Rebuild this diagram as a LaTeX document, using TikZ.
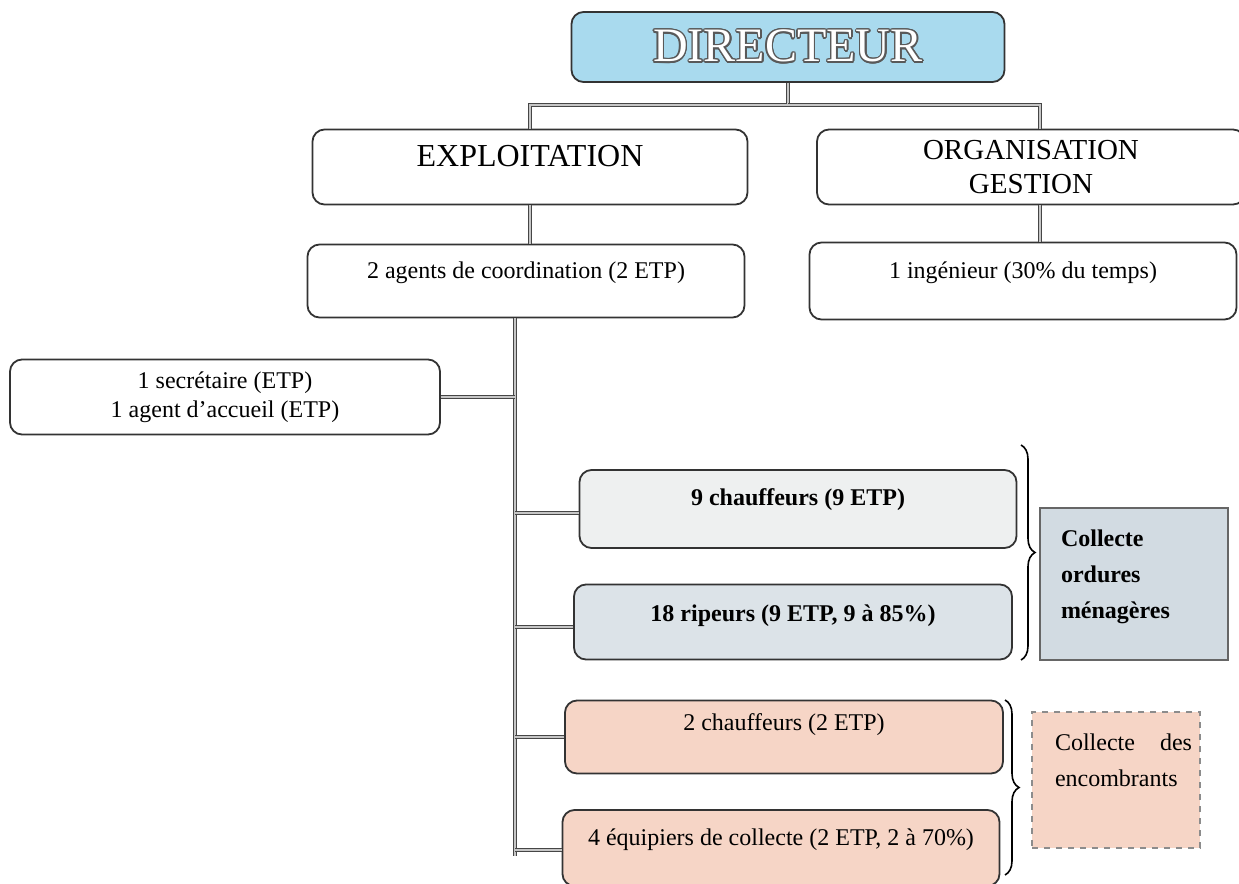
\documentclass[tikz,border=0pt]{standalone}
\usepackage{fontspec}
\setmainfont{Liberation Serif}
\usepackage{contour}
\contourlength{0.7pt}
\usetikzlibrary{positioning,decorations.pathreplacing}
\definecolor{dirblue}{HTML}{A9DAEE}
\definecolor{omgrey}{HTML}{EEF0F0}
\definecolor{ripblue}{HTML}{DCE3E8}
\definecolor{omblue}{HTML}{D2DBE2}
\definecolor{encpink}{HTML}{F6D5C6}

\begin{document}
\begin{tikzpicture}[x=0.5pt,y=-0.5pt]
% STYLES
\tikzset{%
    unit/.style={%
        rectangle,rounded corners=6pt,draw=black!80,line width=0.9pt,
        align=center,inner sep=0pt,font=\fontsize{12}{14.5}\selectfont
    },
    group/.style={%
        rectangle,draw=black!60,line width=0.6pt,align=left,inner sep=0pt,
        font=\bfseries\fontsize{12}{18}\selectfont
    },
    link/.style={%
        draw=gray!55!black,line width=0.5pt,double=gray!45,double distance=1pt
    },
    grpbrace/.style={%
        decorate,decoration={brace,amplitude=7pt},line width=0.8pt
    }
}
\useasboundingbox (0,0) rectangle (1239,884);
% Draw units
\node [unit, fill=dirblue, minimum width=216.5pt, minimum height=35pt,
       font=\fontsize{24}{26}\selectfont] (dir) at (788,47)
      {\color{white}\contour{black!65}{DIRECTEUR}};
\node [unit, minimum width=217.5pt, minimum height=37.5pt, text depth=11pt,
       font=\fontsize{16}{18}\selectfont] (expl) at (530,167) {EXPLOITATION};
\node [unit, minimum width=214pt, minimum height=37.5pt,
       font=\fontsize{14.5}{17}\selectfont] (org) at (1031,167) {ORGANISATION\\GESTION};
\node [unit, minimum width=218.5pt, minimum height=36.5pt, text depth=11pt]
      (agents) at (526,281) {2 agents de coordination (2 ETP)};
\node [unit, minimum width=213.5pt, minimum height=38.5pt, text depth=11pt]
      (ing) at (1023,281) {1 ingénieur (30\% du temps)};
\node [unit, minimum width=215pt, minimum height=37.5pt] (sec) at (225,397)
      {1 secrétaire (ETP)\\1 agent d'accueil (ETP)};
\node [unit, fill=omgrey, minimum width=218.5pt, minimum height=39pt, text depth=12pt,
       font=\bfseries\fontsize{12}{14.5}\selectfont] (ch9) at (798,509)
      {9 chauffeurs (9 ETP)};
\node [unit, fill=ripblue, minimum width=219pt, minimum height=37.5pt, text depth=9pt,
       font=\bfseries\fontsize{12}{14.5}\selectfont] (rip) at (793,622)
      {18 ripeurs (9 ETP, 9 à 85\%)};
\node [unit, fill=encpink, minimum width=219pt, minimum height=36.5pt, text depth=15pt]
      (ch2) at (784,737) {2 chauffeurs (2 ETP)};
\node [unit, fill=encpink, minimum width=218.5pt, minimum height=38pt, text depth=11pt]
      (equ) at (781,848) {4 équipiers de collecte (2 ETP, 2 à 70\%)};
% Groups
\node [group, fill=omblue, minimum width=94pt, minimum height=76pt, text width=73pt,
       text depth=46pt] (om) at (1134,584) {Collecte\\ordures\\ménagères};
\node [group, fill=encpink, draw=black!45, dashed, minimum width=84pt, minimum height=68pt,
       text width=76pt, text depth=38pt, font=\fontsize{12}{18}\selectfont] (enc) at (1116,780)
      {\hspace*{7.5pt}Collecte\hfill des\\\hspace*{7.5pt}encombrants};
% Draw the links
\coordinate (bar) at (788,105);
\coordinate (trunk) at (515,856);
\draw [link] (dir.south) -- (bar) -| (expl.north);
\draw [link] (bar) -| ([xshift=4.5pt]org.north);
\draw [link] (expl.south) -- (expl.south |- agents.north);
\draw [link] ([xshift=4.5pt]org.south) -- ([xshift=4.5pt]org.south |- ing.north);
\draw [link] (agents.south -| trunk) -- (trunk);
\draw [link] (sec.east) -- (sec.east -| trunk);
\draw [link] ([yshift=-2pt]ch9.west) -- ([yshift=-2pt]ch9.west -| trunk);
\draw [link] ([yshift=-2.5pt]rip.west) -- ([yshift=-2.5pt]rip.west -| trunk);
\draw [link] (ch2.west) -- (ch2.west -| trunk);
\draw [link] ([yshift=-1pt]equ.west) -- ([yshift=-1pt]equ.west -| trunk);
% Braces
\draw [grpbrace] (1021,445) -- (1021,660);
\draw [grpbrace] (1005,700) -- (1005,875);
\end{tikzpicture}
\end{document}
